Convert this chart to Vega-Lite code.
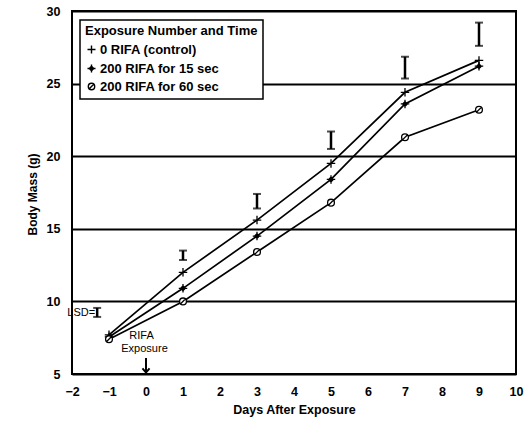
{
  "$schema": "https://vega.github.io/schema/vega-lite/v6.json",
  "width": 444,
  "height": 363,
  "autosize": "none",
  "padding": {"left": 72, "top": 11, "right": 15, "bottom": 48},
  "background": "white",
  "config": {
    "view": {"stroke": "black", "strokeWidth": 2},
    "font": "Liberation Sans"
  },
  "datasets": {
    "series": [
      {"day": -1, "mass": 7.7, "group": "0 RIFA (control)"},
      {"day": 1, "mass": 12.0, "group": "0 RIFA (control)"},
      {"day": 3, "mass": 15.6, "group": "0 RIFA (control)"},
      {"day": 5, "mass": 19.5, "group": "0 RIFA (control)"},
      {"day": 7, "mass": 24.4, "group": "0 RIFA (control)"},
      {"day": 9, "mass": 26.6, "group": "0 RIFA (control)"},
      {"day": -1, "mass": 7.55, "group": "200 RIFA for 15 sec"},
      {"day": 1, "mass": 10.9, "group": "200 RIFA for 15 sec"},
      {"day": 3, "mass": 14.5, "group": "200 RIFA for 15 sec"},
      {"day": 5, "mass": 18.4, "group": "200 RIFA for 15 sec"},
      {"day": 7, "mass": 23.6, "group": "200 RIFA for 15 sec"},
      {"day": 9, "mass": 26.2, "group": "200 RIFA for 15 sec"},
      {"day": -1, "mass": 7.4, "group": "200 RIFA for 60 sec"},
      {"day": 1, "mass": 10.0, "group": "200 RIFA for 60 sec"},
      {"day": 3, "mass": 13.4, "group": "200 RIFA for 60 sec"},
      {"day": 5, "mass": 16.8, "group": "200 RIFA for 60 sec"},
      {"day": 7, "mass": 21.3, "group": "200 RIFA for 60 sec"},
      {"day": 9, "mass": 23.2, "group": "200 RIFA for 60 sec"}
    ],
    "lsd": [
      {"day": -1.32, "lo": 8.93, "hi": 9.55},
      {"day": 1, "lo": 12.85, "hi": 13.5},
      {"day": 3, "lo": 16.4, "hi": 17.4},
      {"day": 5, "lo": 20.5, "hi": 21.7},
      {"day": 7, "lo": 25.35, "hi": 26.85},
      {"day": 9, "lo": 27.6, "hi": 29.2}
    ],
    "notes": [
      {"day": -1.75, "mass": 9.2, "text": "LSD="},
      {"day": -0.12, "mass": 7.62, "text": "RIFA"},
      {"day": -0.04, "mass": 6.72, "text": "Exposure"}
    ],
    "arrow": [
      {"day": 0, "top": 6.1, "tip": 5.1}
    ]
  },
  "encoding": {
    "x": {
      "field": "day", "type": "quantitative",
      "scale": {"domain": [-2, 10], "nice": false, "zero": false},
      "axis": {
        "title": "Days After Exposure",
        "values": [-2, -1, 0, 1, 2, 3, 4, 5, 6, 7, 8, 9, 10],
        "format": "d",
        "labelOverlap": false, "labelFlush": false, "labelSeparation": 0,
        "grid": false, "ticks": false, "domain": false,
        "labelFont": "Liberation Sans", "labelFontSize": 12.5, "labelFontWeight": "bold",
        "labelColor": "black", "labelPadding": 11,
        "titleFont": "Liberation Sans", "titleFontSize": 12.5, "titleFontWeight": "bold",
        "titleColor": "black", "titleY": 35, "titleBaseline": "middle"
      }
    }
  },
  "layer": [
    {
      "data": {"name": "series"},
      "mark": {"type": "line", "color": "black", "strokeWidth": 1.7},
      "encoding": {
        "y": {
          "field": "mass", "type": "quantitative",
          "title": "Body Mass (g)",
          "scale": {"domain": [5, 30], "nice": false, "zero": false},
          "axis": {
            "title": "Body Mass (g)",
            "values": [5, 10, 15, 20, 25, 30],
            "labelOverlap": false, "labelFlush": false,
            "grid": true, "gridColor": "black", "gridWidth": 2, "gridOpacity": 1,
            "ticks": false, "domain": false,
            "labelFont": "Liberation Sans", "labelFontSize": 12.5, "labelFontWeight": "bold",
            "labelColor": "black", "labelPadding": 12,
            "titleFont": "Liberation Sans", "titleFontSize": 12, "titleFontWeight": "bold",
            "titleColor": "black", "titleX": -40, "titleY": 183, "titleBaseline": "middle", "titleAngle": -90
          }
        },
        "detail": {"field": "group"}
      }
    },
    {
      "data": {"name": "series"},
      "mark": {"type": "point", "filled": true, "stroke": "black", "strokeWidth": 1.3, "size": 72, "opacity": 1},
      "encoding": {
        "y": {"field": "mass", "type": "quantitative", "title": "Body Mass (g)"},
        "shape": {
          "field": "group", "type": "nominal",
          "scale": {
            "domain": ["0 RIFA (control)", "200 RIFA for 15 sec", "200 RIFA for 60 sec"],
            "range": [
              "M-1,0L1,0M0,-1L0,1",
              "M-1,0L1,0M0,-1L0,1M0,-0.55L0.55,0L0,0.55L-0.55,0Z",
              "M0.8,0A0.8,0.8 0 1,1 -0.8,0A0.8,0.8 0 1,1 0.8,0ZM-0.55,0.55L0.55,-0.55"
            ]
          },
          "legend": {
            "title": "Exposure Number and Time",
            "orient": "none", "legendX": 8, "legendY": 9,
            "fillColor": "white", "strokeColor": "black",
            "padding": 5, "rowPadding": 4, "titlePadding": 5,
            "titleFont": "Liberation Sans", "titleFontSize": 13, "titleFontWeight": "bold", "titleColor": "black",
            "labelFont": "Liberation Sans", "labelFontSize": 13, "labelFontWeight": "bold", "labelColor": "black",
            "labelOffset": 2, "symbolSize": 64, "symbolStrokeColor": "black", "symbolStrokeWidth": 1.4,
            "symbolOpacity": 1, "symbolFillColor": "white",
            "encode": {
              "legend": {
                "update": {"strokeWidth": {"value": 1.5}}
              },
              "symbols": {
                "update": {
                  "stroke": {"value": "black"},
                  "strokeWidth": {"value": 1.4},
                  "fill": {"signal": "datum.value === '200 RIFA for 15 sec' ? 'black' : 'white'"}
                }
              }
            }
          }
        },
        "fill": {
          "field": "group", "type": "nominal",
          "scale": {
            "domain": ["0 RIFA (control)", "200 RIFA for 15 sec", "200 RIFA for 60 sec"],
            "range": ["white", "black", "white"]
          },
          "legend": null
        }
      }
    },
    {
      "data": {"name": "lsd"},
      "mark": {"type": "errorbar", "color": "black", "ticks": {"size": 8, "thickness": 2, "color": "black"}, "rule": {"strokeWidth": 2.5}},
      "encoding": {
        "y": {"field": "lo", "type": "quantitative", "title": "Body Mass (g)"},
        "y2": {"field": "hi"}
      }
    },
    {
      "data": {"name": "notes"},
      "mark": {"type": "text", "font": "Liberation Sans", "fontSize": 11, "color": "black", "baseline": "middle", "align": "center"},
      "encoding": {
        "y": {"field": "mass", "type": "quantitative", "title": "Body Mass (g)"},
        "text": {"field": "text"}
      }
    },
    {
      "data": {"name": "arrow"},
      "mark": {"type": "rule", "color": "black", "strokeWidth": 2},
      "encoding": {
        "y": {"field": "top", "type": "quantitative", "title": "Body Mass (g)"},
        "y2": {"field": "tip"}
      }
    },
    {
      "data": {"name": "arrow"},
      "mark": {"type": "point", "shape": "M-1,-1.2L0,0L1,-1.2", "filled": false, "stroke": "black", "strokeWidth": 2, "size": 50, "opacity": 1},
      "encoding": {
        "y": {"field": "tip", "type": "quantitative", "title": "Body Mass (g)"}
      }
    }
  ]
}
